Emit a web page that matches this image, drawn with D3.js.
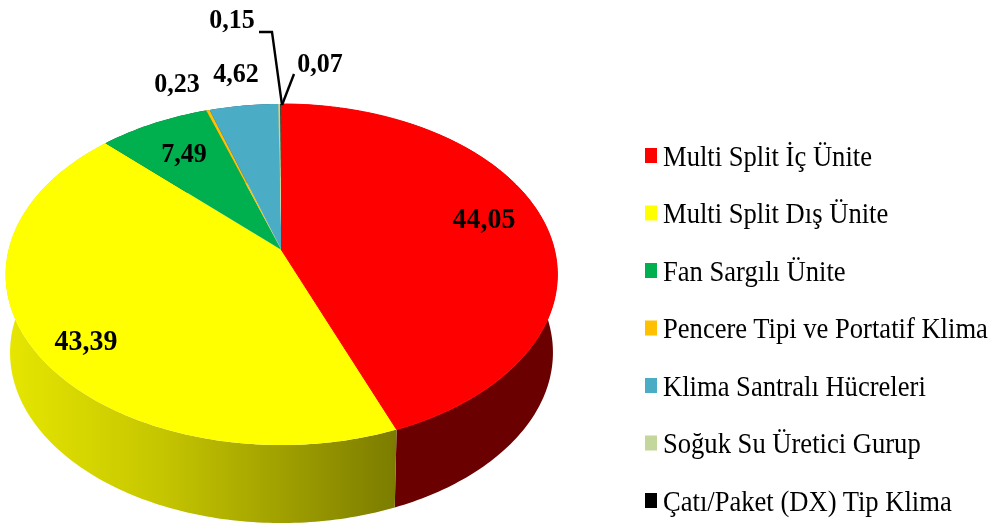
<!DOCTYPE html>
<html>
<head>
<meta charset="utf-8">
<script src="https://cdn.jsdelivr.net/npm/d3@7"></script>
<style>
  html, body { margin: 0; padding: 0; background: #fff; }
  svg { display: block; }
  text { font-family: "Liberation Serif", serif; fill: #000; }
</style>
</head>
<body>
<div id="chart"></div>
<script>
var categories = ["Multi Split İç Ünite", "Multi Split Dış Ünite", "Fan Sargılı Ünite",
    "Pencere Tipi ve Portatif Klima", "Klima Santralı Hücreleri", "Soğuk Su Üretici Gurup", "Çatı/Paket (DX) Tip Klima"];
var values = [44.05, 43.39, 7.49, 0.23, 4.62, 0.15, 0.07];
var colors = ["#ff0000", "#ffff00", "#00b050", "#ffc000", "#4bacc6", "#c3d69b", "#000000"];
var sideColors = ["#6b0000", "url(#yellowSide)", "#006b30", "#7f6000", "#23606f", "#6b7a4a", "#000000"];

var w = 997;
var h = 523;

var svg = d3.select("#chart")
    .append("svg")
    .attr("width", w)
    .attr("height", h);

var defs = svg.append("defs");

var yellowSide = defs.append("linearGradient")
    .attr("id", "yellowSide")
    .attr("gradientUnits", "userSpaceOnUse")
    .attr("x1", 8).attr("x2", 396).attr("y1", 0).attr("y2", 0);
yellowSide.append("stop").attr("offset", "0%").attr("stop-color", "#e6e600");
yellowSide.append("stop").attr("offset", "39%").attr("stop-color", "#c6c600");
yellowSide.append("stop").attr("offset", "100%").attr("stop-color", "#7c7c00");

// the scan is a bit soft, so everything gets a small blur
defs.append("filter").attr("id", "soft")
    .append("feGaussianBlur").attr("stdDeviation", 0.7);

var g = svg.append("g").attr("filter", "url(#soft)");

// Pie is a circle seen in perspective: centre lands at (281,250), not in the middle of the ellipse
var tilt = { x: 281.5, y: 250, a: 273, b: 167, k: 0.1437 };

function project(angle, depth) {
    var X = Math.sin(angle);
    var Y = -Math.cos(angle);
    var p = 1 - tilt.k * Y;
    var shrink = depth ? 0.984 : 1;
    return [tilt.x + shrink * tilt.a * X / p, tilt.y + tilt.b * Y / p + (depth || 0)];
}

var slices = d3.pie().sort(null).startAngle(0).endAngle(2 * Math.PI)(values);
var line = d3.line();

function rim(d, depth) {
    var n = Math.max(2, Math.ceil((d.endAngle - d.startAngle) * 60));
    return d3.range(n + 1).map(function (i) {
        return project(d.startAngle + (d.endAngle - d.startAngle) * i / n, depth);
    });
}

// Side wall first, the top covers what is behind
var sideDepth = 78;
g.selectAll("path.side")
    .data(slices)
    .enter()
    .append("path")
    .attr("class", "side")
    .attr("fill", function (d, i) { return sideColors[i]; })
    .attr("d", function (d) {
        return line(rim(d, 0).concat(rim(d, sideDepth).reverse())) + "Z";
    });

g.selectAll("path.top")
    .data(slices)
    .enter()
    .append("path")
    .attr("class", "top")
    .attr("fill", function (d, i) { return colors[i]; })
    .attr("d", function (d) {
        return line([[tilt.x, tilt.y]].concat(rim(d, 0))) + "Z";
    });

// black sliver does not show in the original, red goes over it
g.selectAll("path.top").filter(function (d, i) { return i === 0; })
    .attr("stroke", colors[0])
    .attr("stroke-width", 1)
    .raise();

// Data labels
var labelText = values.map(function (v) { return d3.format(".2f")(v).replace(".", ","); });
var labelX = [484, 86, 184, 177, 236, 232, 320];
var labelY = [228, 350, 162, 92, 82, 28, 72];
var labelSize = [30, 30, 28, 28, 28, 28, 28];

g.selectAll("text.value")
    .data(labelText)
    .enter()
    .append("text")
    .attr("class", "value")
    .attr("transform", function (d, i) { return "translate(" + labelX[i] + "," + labelY[i] + ") scale(0.93,1)"; })
    .attr("text-anchor", "middle")
    .style("font-size", function (d, i) { return labelSize[i] + "px"; })
    .style("font-weight", "bold")
    .text(function (d) { return d; });

// Leader lines for the two thin slices
var leaderA = [[259, 32], [272, 32], [282, 105]];
var leaderB = [[282, 105], [294, 74]];
[leaderA, leaderB].forEach(function (pts) {
    g.append("path")
        .attr("d", line(pts))
        .attr("fill", "none")
        .attr("stroke", "#000")
        .attr("stroke-width", 2.4);
});

// Legend
var legendY = d3.scalePoint().domain(categories).range([156, 501]);

var legend = g.selectAll("g.legend")
    .data(categories)
    .enter()
    .append("g")
    .attr("class", "legend")
    .attr("transform", function (d) { return "translate(645," + legendY(d) + ")"; });

legend.append("rect")
    .attr("x", 0)
    .attr("y", -8)
    .attr("width", 12)
    .attr("height", 15)
    .attr("fill", function (d, i) { return colors[i]; });

legend.append("text")
    .attr("transform", "translate(18,9.5) scale(0.917,1)")
    .style("font-size", "29px")
    .text(function (d) { return d; });
</script>
</body>
</html>
